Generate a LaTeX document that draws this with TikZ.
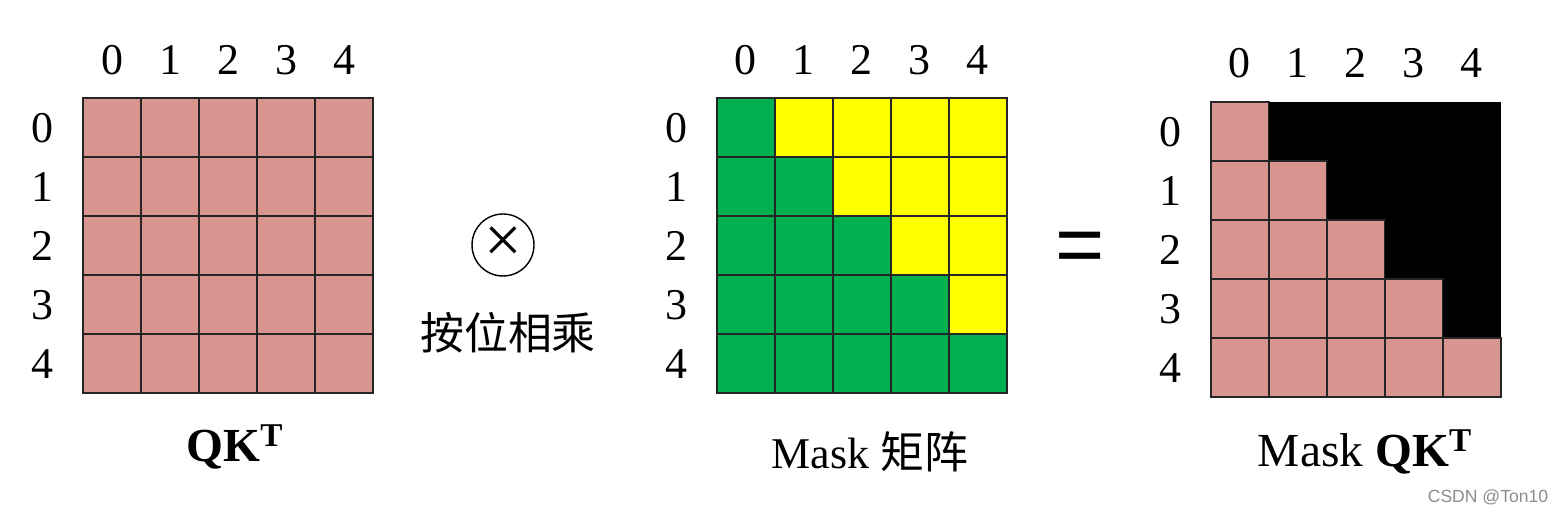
\documentclass[tikz,border=0pt]{standalone}
\usepackage{fontspec}
\setmainfont{Liberation Serif}
\newfontfamily\cjk{Noto Sans CJK SC}
\newfontfamily\eqfont{Liberation Sans}
\definecolor{qkpink}{HTML}{D9958F}
\definecolor{maskgreen}{HTML}{00B050}
\definecolor{maskyellow}{HTML}{FFFF00}

\begin{document}
\begin{tikzpicture}[x=0.02cm,y=-0.02cm,
    num/.style={font=\fontsize{25}{30}\selectfont, inner sep=0pt},
    title/.style={font=\fontsize{27}{32}\selectfont, inner sep=0pt},
    cell/.style={draw=black!85, line width=0.6pt}]
    \useasboundingbox (0,0) rectangle (1566,516);

    % QK^T
    \foreach \i in {0,...,4} {
        \foreach \j in {0,...,4} {
            \draw[cell, fill=qkpink] ({83+58*\j},{98+59*\i}) rectangle ++(58,59);
        }
        \node[num] (qk-col-\i) at ({112+58*\i},60) {\i};
        \node[num] (qk-row-\i) at (42,{128+59*\i}) {\i};
    }
    \node[title] (qk-name) at (235,447) {\textbf{QK\textsuperscript{T}}};

    % multiply sign
    \node[draw, circle, line width=0.8pt, minimum size=1.24cm, inner sep=0pt,
        font=\fontsize{38}{38}\selectfont] (otimes) at (503,245) {×};
    \node[font=\cjk\fontsize{25}{30}\selectfont, inner sep=0pt] (otimes-text) at (508,333) {按位相乘};

    % Mask
    \foreach \i in {0,...,4} {
        \foreach \j in {0,...,4} {
            \ifnum\j>\i
                \draw[cell, fill=maskyellow] ({717+58*\j},{98+59*\i}) rectangle ++(58,59);
            \else
                \draw[cell, fill=maskgreen] ({717+58*\j},{98+59*\i}) rectangle ++(58,59);
            \fi
        }
        \node[num] (mask-col-\i) at ({745+58*\i},60) {\i};
        \node[num] (mask-row-\i) at (676,{128+59*\i}) {\i};
    }
    \node[title, font=\fontsize{25}{30}\selectfont] (mask-name) at (870,452) {Mask {\cjk 矩阵}};

    % equals
    \node[font=\eqfont\fontsize{48}{48}\selectfont, inner sep=0pt] (equals) at (1080,253) {=};

    % Mask QK^T
    \foreach \i in {0,...,4} {
        \foreach \j in {0,...,4} {
            \ifnum\j>\i
                \fill[black] ({1211+58*\j},{102+59*\i}) rectangle ++(58,59);
            \else
                \draw[cell, fill=qkpink] ({1211+58*\j},{102+59*\i}) rectangle ++(58,59);
            \fi
        }
        \node[num] (res-col-\i) at ({1239+58*\i},63) {\i};
        \node[num] (res-row-\i) at (1170,{132+59*\i}) {\i};
    }
    \node[title] (res-name) at (1365,452) {Mask \textbf{QK\textsuperscript{T}}};

    \node[font=\eqfont\fontsize{10}{12}\selectfont, text=black!45, inner sep=0pt] (watermark) at (1488,497) {CSDN @Ton10};
\end{tikzpicture}
\end{document}
